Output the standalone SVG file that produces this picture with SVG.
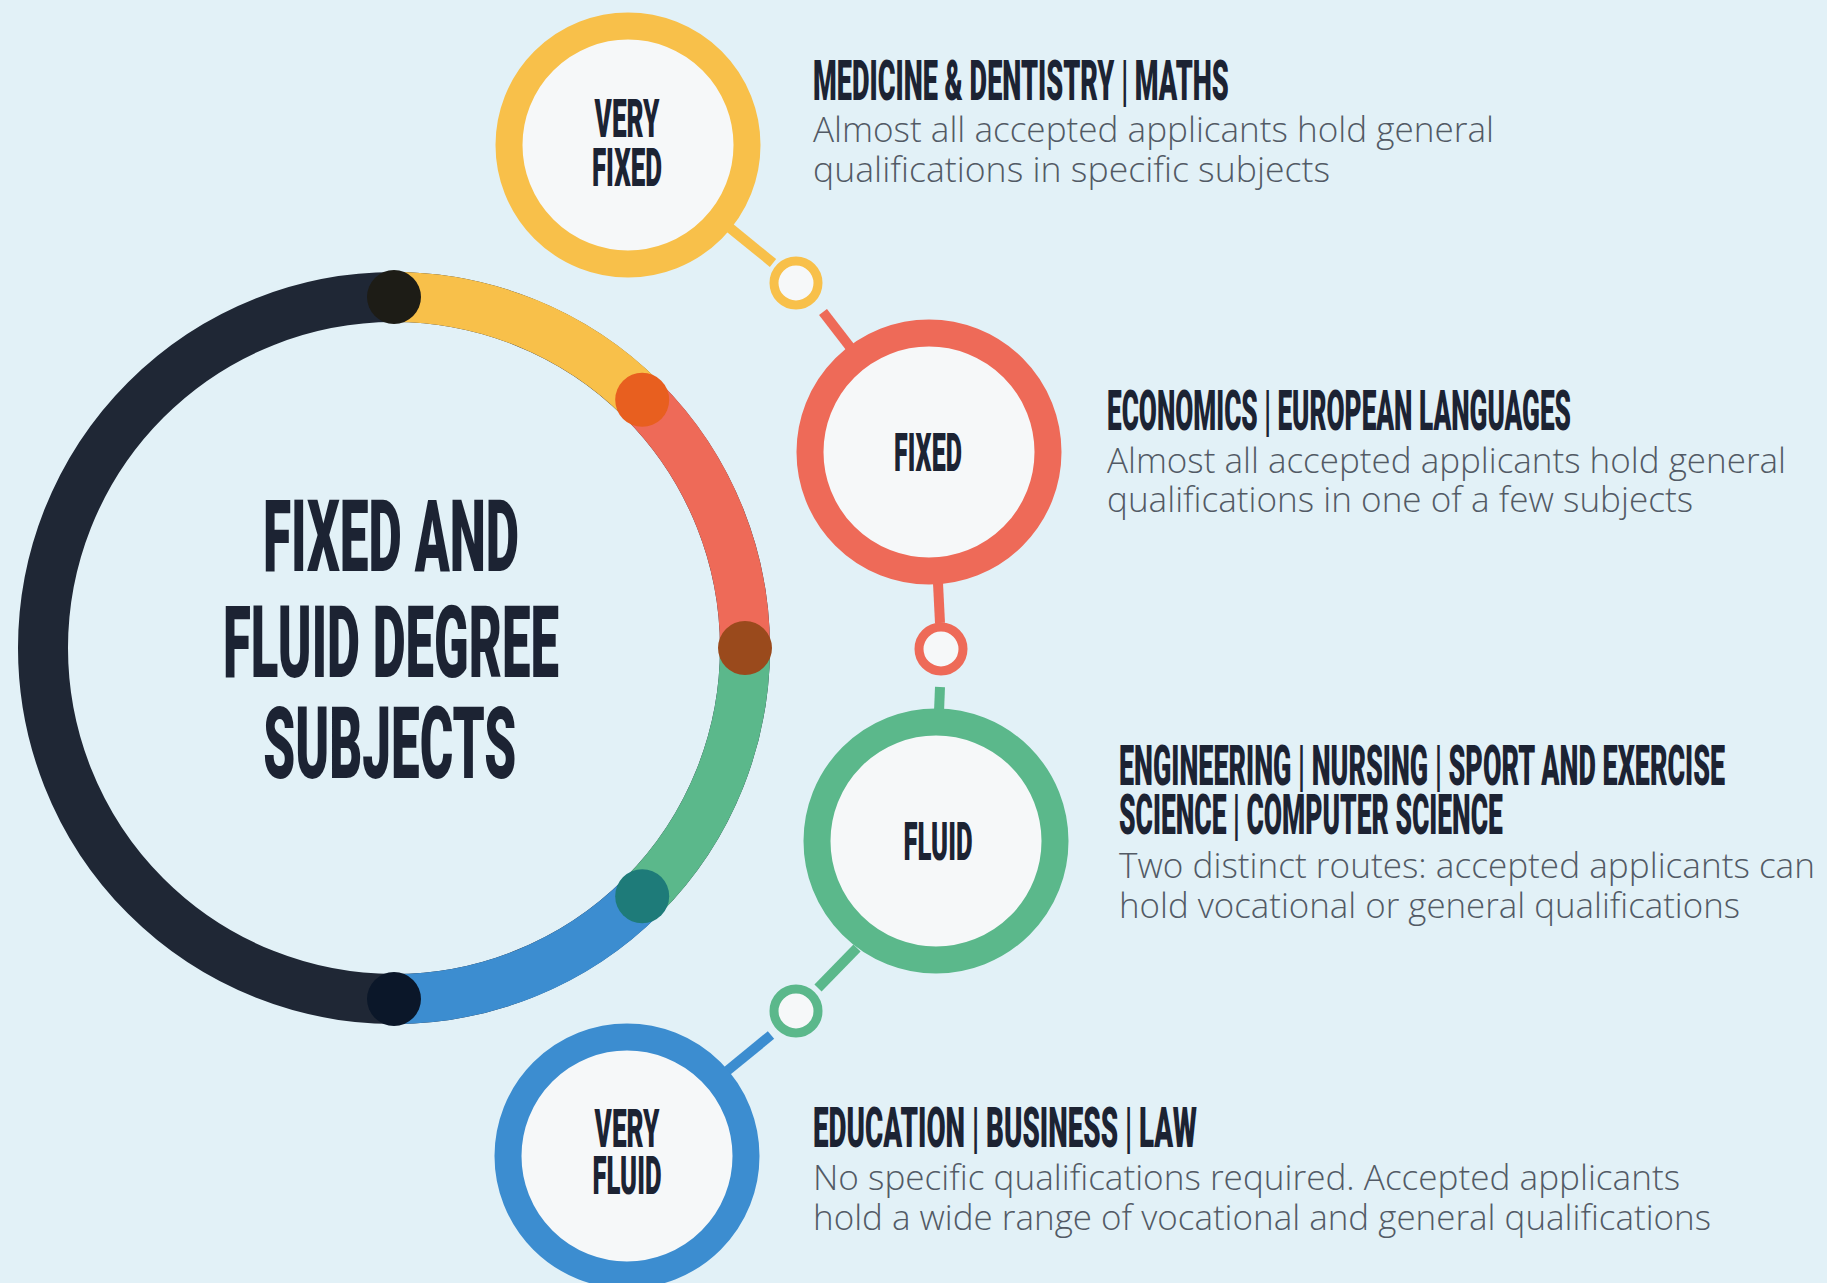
<svg xmlns="http://www.w3.org/2000/svg" width="1827" height="1283" viewBox="0 0 1827 1283">
<style>
.bg{fill:#e2f1f7}
.ring{fill:#f6f8f9;stroke-width:27}
.dot{fill:#f6f8f9;stroke-width:9}
.lbl{font-family:Roboto,"Liberation Sans",sans-serif;font-weight:900;font-size:54px;fill:#1c2333;text-anchor:middle}
.head{font-family:Roboto,"Liberation Sans",sans-serif;font-weight:900;font-size:55px;fill:#1c2333}
.body{font-family:"Open Sans","Liberation Sans",sans-serif;font-weight:300;font-size:35px;fill:#525a65}
.title{font-family:Roboto,"Liberation Sans",sans-serif;font-weight:900;font-size:101px;fill:#1c2333;text-anchor:middle}
.conn{stroke-width:10;fill:none}
.y{stroke:#f8c04a}.r{stroke:#ee6a58}.g{stroke:#5bb88b}.b{stroke:#3c8dd0}
</style>
<rect class="bg" x="0" y="0" width="1827" height="1283"/>

<g id="main">
  <circle cx="394" cy="648" r="351" fill="none" stroke="#1f2735" stroke-width="50"/>
  <path d="M394,297 A351,351 0 0 1 642.2,399.8" fill="none" stroke="#f8c04a" stroke-width="50"/>
  <path d="M642.2,399.8 A351,351 0 0 1 745,648" fill="none" stroke="#ee6a58" stroke-width="50"/>
  <path d="M745,648 A351,351 0 0 1 642.2,896.2" fill="none" stroke="#5bb88b" stroke-width="50"/>
  <path d="M642.2,896.2 A351,351 0 0 1 394,999" fill="none" stroke="#3c8dd0" stroke-width="50"/>
  <circle cx="394" cy="297" r="27" fill="#1d1c16"/>
  <circle cx="642.2" cy="399.8" r="27" fill="#e85f1f"/>
  <circle cx="745" cy="648" r="27" fill="#9a4a1c"/>
  <circle cx="642.2" cy="896.2" r="27" fill="#1e7b79"/>
  <circle cx="394" cy="999" r="27" fill="#0b1729"/>
  <text class="title" transform="translate(391,0) scale(0.6,1)"><tspan x="0" y="571" textLength="427" lengthAdjust="spacingAndGlyphs">FIXED AND</tspan><tspan x="0" y="677" textLength="560" lengthAdjust="spacingAndGlyphs">FLUID DEGREE</tspan><tspan x="-2" y="778" textLength="422" lengthAdjust="spacingAndGlyphs">SUBJECTS</tspan></text>
</g>

<g id="connectors">
  <line class="conn y" x1="730" y1="228" x2="773" y2="263"/>
  <line class="conn r" x1="823" y1="312" x2="850" y2="347"/>
  <line class="conn r" x1="938" y1="583" x2="940" y2="623"/>
  <line class="conn g" x1="940" y1="687" x2="939" y2="712"/>
  <line class="conn g" x1="857" y1="948" x2="818" y2="988"/>
  <line class="conn b" x1="771" y1="1035" x2="727" y2="1071"/>
  <circle class="dot y" cx="796" cy="283" r="22"/>
  <circle class="dot r" cx="941" cy="649" r="22"/>
  <circle class="dot g" cx="796" cy="1011" r="22"/>
</g>

<g id="very-fixed">
  <circle class="ring y" cx="628" cy="145" r="119"/>
  <text class="lbl" transform="translate(627,0) scale(0.6,1)"><tspan x="0" y="137" textLength="108" lengthAdjust="spacingAndGlyphs">VERY</tspan><tspan x="0" y="186" textLength="117" lengthAdjust="spacingAndGlyphs">FIXED</tspan></text>
</g>
<g id="very-fixed-text">
  <text class="head" transform="translate(813,100) scale(0.45,1)" x="0" y="0" textLength="924" lengthAdjust="spacingAndGlyphs">MEDICINE &amp; DENTISTRY | MATHS</text>
  <text class="body"><tspan x="813" y="142" textLength="681" lengthAdjust="spacingAndGlyphs">Almost all accepted applicants hold general</tspan><tspan x="813" y="182" textLength="517" lengthAdjust="spacingAndGlyphs">qualifications in specific subjects</tspan></text>
</g>

<g id="fixed">
  <circle class="ring r" cx="929" cy="452" r="119"/>
  <text class="lbl" transform="translate(928,0) scale(0.6,1)" x="0" y="471" textLength="113" lengthAdjust="spacingAndGlyphs">FIXED</text>
</g>
<g id="fixed-text">
  <text class="head" transform="translate(1107,430) scale(0.45,1)" x="0" y="0" textLength="1031" lengthAdjust="spacingAndGlyphs">ECONOMICS | EUROPEAN LANGUAGES</text>
  <text class="body"><tspan x="1107" y="473" textLength="679" lengthAdjust="spacingAndGlyphs">Almost all accepted applicants hold general</tspan><tspan x="1107" y="512" textLength="586" lengthAdjust="spacingAndGlyphs">qualifications in one of a few subjects</tspan></text>
</g>

<g id="fluid">
  <circle class="ring g" cx="936" cy="841" r="119"/>
  <text class="lbl" transform="translate(938,0) scale(0.6,1)" x="0" y="860" textLength="115" lengthAdjust="spacingAndGlyphs">FLUID</text>
</g>
<g id="fluid-text">
  <text class="head" transform="translate(1119,785) scale(0.45,1)"><tspan x="0" y="0" textLength="1347" lengthAdjust="spacingAndGlyphs">ENGINEERING | NURSING | SPORT AND EXERCISE</tspan><tspan x="0" y="49" textLength="853" lengthAdjust="spacingAndGlyphs">SCIENCE | COMPUTER SCIENCE</tspan></text>
  <text class="body"><tspan x="1119" y="878" textLength="696" lengthAdjust="spacingAndGlyphs">Two distinct routes: accepted applicants can</tspan><tspan x="1119" y="918" textLength="621" lengthAdjust="spacingAndGlyphs">hold vocational or general qualifications</tspan></text>
</g>

<g id="very-fluid">
  <circle class="ring b" cx="627" cy="1156" r="119"/>
  <text class="lbl" transform="translate(627,0) scale(0.6,1)"><tspan x="0" y="1147" textLength="108" lengthAdjust="spacingAndGlyphs">VERY</tspan><tspan x="0" y="1194" textLength="115" lengthAdjust="spacingAndGlyphs">FLUID</tspan></text>
</g>
<g id="very-fluid-text">
  <text class="head" transform="translate(813,1147) scale(0.45,1)" x="0" y="0" textLength="853" lengthAdjust="spacingAndGlyphs">EDUCATION | BUSINESS | LAW</text>
  <text class="body"><tspan x="813" y="1190" textLength="867" lengthAdjust="spacingAndGlyphs">No specific qualifications required. Accepted applicants</tspan><tspan x="813" y="1230" textLength="898" lengthAdjust="spacingAndGlyphs">hold a wide range of vocational and general qualifications</tspan></text>
</g>
</svg>
